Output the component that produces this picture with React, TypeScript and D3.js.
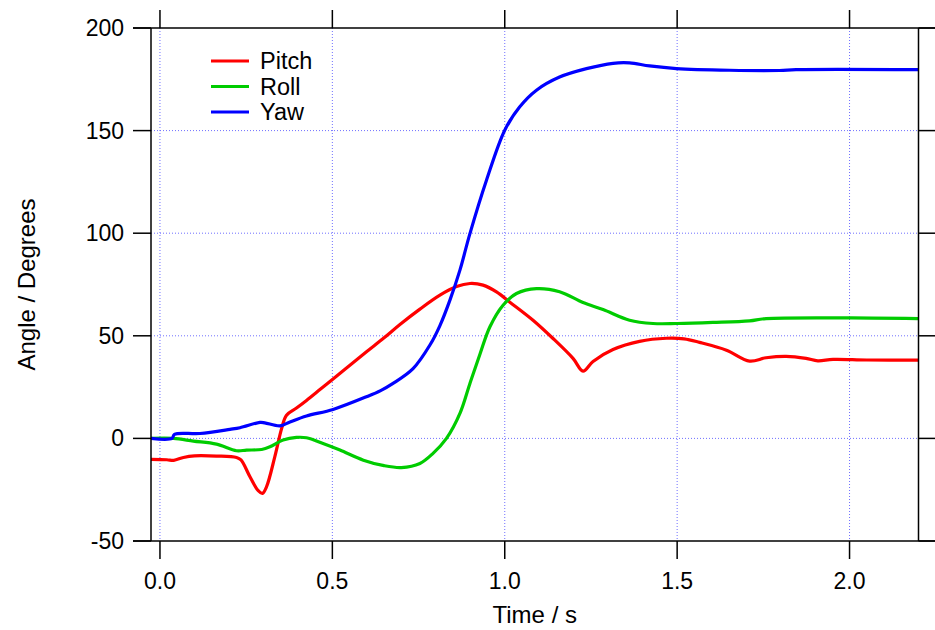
import React from "react";
import * as d3 from "d3";

const xTicks = [0.0, 0.5, 1.0, 1.5, 2.0];
const yTicks = [-50, 0, 50, 100, 150, 200];
const seriesNames = ["Pitch", "Roll", "Yaw"];
const seriesColors = ["#ff0000", "#00cc00", "#0000ff"];

const pitch: [number, number][] = [
  [-0.026, -10.2], [0.02, -10.4], [0.04, -10.7], [0.068, -9.3], [0.1, -8.5], [0.164, -8.6],
  [0.222, -9.3], [0.235, -10.5], [0.261, -18.7], [0.285, -25.5], [0.297, -26.8], [0.309, -23.6],
  [0.333, -9], [0.353, 4.9], [0.367, 11.3], [0.396, 14.8], [0.425, 18.5], [0.464, 23.8],
  [0.502, 29], [0.55, 35.5], [0.599, 42.2], [0.65, 49], [0.696, 55.5], [0.754, 63], [0.812, 69.8],
  [0.86, 74], [0.899, 75.5], [0.937, 74.7], [0.976, 71.4], [1.014, 66.5], [1.082, 57.6], [1.14, 48.7],
  [1.198, 39], [1.227, 32.8], [1.256, 37.5], [1.314, 43.3], [1.391, 47.3], [1.469, 48.8],
  [1.52, 48.5], [1.565, 46.8], [1.643, 43], [1.71, 37.7], [1.758, 39.3], [1.816, 40],
  [1.874, 39], [1.908, 37.8], [1.952, 38.5], [2.05, 38.2], [2.2, 38.1],
];

const roll: [number, number][] = [
  [-0.026, 0], [0.039, 0], [0.097, -1.3], [0.164, -2.8], [0.222, -6], [0.251, -5.7],
  [0.295, -5.4], [0.319, -4.1], [0.357, -0.8], [0.396, 0.5], [0.425, 0.3], [0.473, -2.5],
  [0.522, -5.7], [0.59, -10.6], [0.65, -13.3], [0.7, -14.2], [0.754, -12.2], [0.792, -7.3],
  [0.831, 0], [0.87, 12.2], [0.899, 26.8], [0.928, 41], [0.957, 54.4], [0.995, 64.9],
  [1.034, 70.6], [1.092, 73], [1.159, 71.5], [1.227, 66.2], [1.285, 62.8], [1.362, 57.6],
  [1.43, 56], [1.5, 56], [1.604, 56.5], [1.71, 57.3], [1.758, 58.4], [2.2, 58.4],
];

const yaw: [number, number][] = [
  [-0.026, 0], [0.035, 0], [0.042, 2], [0.116, 2.4], [0.203, 4.4], [0.232, 5.2], [0.29, 7.8],
  [0.304, 7.6], [0.348, 6.1], [0.377, 8], [0.425, 10.9], [0.502, 14.1], [0.599, 20.3],
  [0.64, 23.3], [0.676, 26.8], [0.734, 34], [0.783, 45.5], [0.812, 55], [0.841, 67.4], [0.87, 82],
  [0.899, 99.8], [0.947, 125.8], [1.0, 150.2], [1.043, 161.5], [1.092, 169.7], [1.159, 176.1],
  [1.237, 180.2], [1.314, 182.8], [1.362, 183], [1.42, 181.5], [1.498, 180.2], [1.652, 179.4],
  [1.797, 179.3], [1.845, 179.7], [2.2, 179.7],
];

const allSeries = [pitch, roll, yaw];

const W = 935;
const H = 630;
const L = 151, R = 918.5, T = 28, B = 541;
const FONT = "'Liberation Sans', Arial, Helvetica, sans-serif";

export default function App() {
  const x = d3.scaleLinear().domain([-0.026, 2.2]).range([L, R]);
  const y = d3.scaleLinear().domain([-50, 200]).range([B, T]);
  const line = d3
    .line<[number, number]>()
    .x((d) => x(d[0]))
    .y((d) => y(d[1]))
    .curve(d3.curveCatmullRom.alpha(0.5));
  const tickLen = 18;
  const grid = "#6f6fff";

  return (
    <svg
      width={W}
      height={H}
      style={{ position: "absolute", left: 0, top: 0, background: "#fff" }}
      fontFamily={FONT}
    >
      <defs>
        <clipPath id="plotclip">
          <rect x={L} y={T} width={R - L} height={B - T} />
        </clipPath>
      </defs>
      <rect x={0} y={0} width={W} height={H} fill="#fff" />
      {/* grid */}
      {xTicks.map((t) => (
        <line key={"gx" + t} x1={x(t)} x2={x(t)} y1={T} y2={B} stroke={grid} strokeWidth={1} strokeDasharray="1 2" />
      ))}
      {yTicks.filter((v) => v > -50 && v < 200).map((v) => (
        <line key={"gy" + v} x1={L} x2={R} y1={y(v)} y2={y(v)} stroke={grid} strokeWidth={1} strokeDasharray="1 2" />
      ))}
      {/* series */}
      <g clipPath="url(#plotclip)">
        {allSeries.map((s, i) => (
          <path key={i} d={line(s) || ""} fill="none" stroke={seriesColors[i]} strokeWidth={3.2} strokeLinejoin="round" strokeLinecap="round" />
        ))}
      </g>
      {/* frame */}
      <g stroke="#000" strokeWidth={1.5}>
        <line x1={L} x2={L} y1={T} y2={B} />
        <line x1={R} x2={R} y1={T} y2={B} />
        <line x1={L - tickLen} x2={W} y1={T} y2={T} />
        <line x1={L - tickLen} x2={W} y1={B} y2={B} />
        {xTicks.map((t) => (
          <g key={"tx" + t}>
            <line x1={x(t)} x2={x(t)} y1={B} y2={B + tickLen} />
            <line x1={x(t)} x2={x(t)} y1={T} y2={T - tickLen} />
          </g>
        ))}
        {yTicks.map((v) => (
          <g key={"ty" + v}>
            <line x1={L - tickLen} x2={L} y1={y(v)} y2={y(v)} />
            <line x1={R} x2={R + tickLen} y1={y(v)} y2={y(v)} />
          </g>
        ))}
      </g>
      {/* tick labels */}
      {xTicks.map((t) => (
        <text key={"lx" + t} x={x(t)} y={589} textAnchor="middle" fontSize={23} fill="#000">
          {d3.format(".1f")(t)}
        </text>
      ))}
      {yTicks.map((v) => (
        <text key={"ly" + v} x={124} y={y(v) + 8} textAnchor="end" fontSize={23} fill="#000">
          {String(v)}
        </text>
      ))}
      <text x={(L + R) / 2} y={623} textAnchor="middle" fontSize={24} fill="#000">
        Time / s
      </text>
      <text transform={`translate(35, ${(T + B) / 2}) rotate(-90)`} textAnchor="middle" fontSize={24} fill="#000">
        Angle / Degrees
      </text>
      {/* legend */}
      {seriesNames.map((n, i) => (
        <g key={n}>
          <line x1={211} x2={249} y1={61 + i * 25.5} y2={61 + i * 25.5} stroke={seriesColors[i]} strokeWidth={3} />
          <text x={260} y={61 + i * 25.5 + 8} fontSize={23.5} fill="#000">
            {n}
          </text>
        </g>
      ))}
    </svg>
  );
}
